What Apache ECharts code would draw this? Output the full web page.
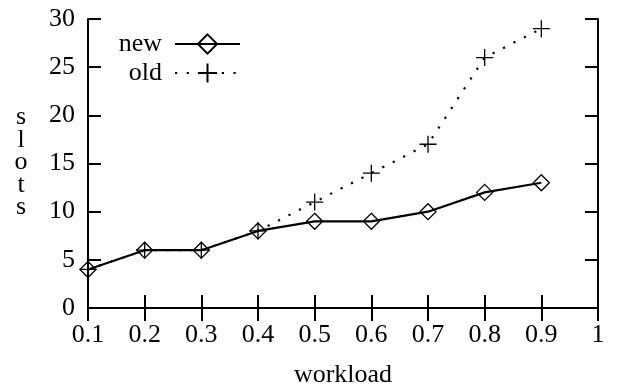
<!DOCTYPE html>
<html>
<head>
<meta charset="utf-8">
<script src="https://cdn.jsdelivr.net/npm/echarts@6/dist/echarts.min.js"></script>
<style>html,body{margin:0;padding:0;background:#fff}#c{width:618px;height:392px}</style>
</head>
<body>
<div id="c"></div>
<script>
const xTicks = ['0.1','0.2','0.3','0.4','0.5','0.6','0.7','0.8','0.9','1'];
const newSlots = [4, 6, 6, 8, 9, 9, 10, 12, 13];
const oldSlots = [4, 6, 6, 8, 11, 14, 17, 26, 29];
const yMin = 0, yMax = 30, yStep = 5;

const FONT = 'Liberation Serif';
const FS = 26;
const chart = echarts.init(document.getElementById('c'), null, {renderer: 'canvas'});
const plusPath = 'path://M0,8L16,8M8,0L8,16';
const axisCommon = {
  axisLine: {show: true, lineStyle: {color: '#000', width: 2}},
  axisTick: {show: true, inside: true, length: 13, lineStyle: {color: '#000', width: 2}},
  splitLine: {show: false}
};
chart.setOption({
  animation: false,
  backgroundColor: '#fff',
  grid: {left: 88, right: 20, top: 19, bottom: 84, containLabel: false, outerBoundsMode: 'none'},
  xAxis: [
    Object.assign({type: 'category', data: xTicks, boundaryGap: false, position: 'bottom',
      axisLabel: {color: '#000', fontFamily: FONT, fontSize: FS, margin: 14},
      name: 'workload', nameLocation: 'middle', nameGap: 54,
      nameTextStyle: {color: '#000', fontFamily: FONT, fontSize: FS}}, axisCommon),
    Object.assign({type: 'category', data: xTicks, boundaryGap: false, position: 'top',
      axisLabel: {show: false}}, axisCommon)
  ],
  yAxis: [
    Object.assign({type: 'value', min: yMin, max: yMax, interval: yStep, position: 'left',
      axisLabel: {color: '#000', fontFamily: FONT, fontSize: FS, margin: 13}}, axisCommon),
    Object.assign({type: 'value', min: yMin, max: yMax, interval: yStep, position: 'right',
      axisLabel: {show: false}}, axisCommon)
  ],
  legend: [
    {data: ['new'], orient: 'vertical', align: 'right', right: 377, top: 31, padding: 0,
     itemWidth: 65, itemHeight: 24,
     textStyle: {color: '#000', fontFamily: FONT, fontSize: FS, padding: [0, 8, 0, 0]}},
    {data: ['old'], orient: 'vertical', align: 'right', right: 377, top: 60, padding: 0,
     itemWidth: 65, itemHeight: 24,
     textStyle: {color: '#000', fontFamily: FONT, fontSize: FS, padding: [0, 8, 0, 0]}}
  ],
  graphic: [{
    type: 'text', x: 21, y: 106,
    style: {text: 's\nl\no\nt\ns', fill: '#000', font: FS + 'px "Liberation Serif"', lineHeight: 22.5, align: 'center', verticalAlign: 'top'}
  }],
  series: [
    {name: 'old', type: 'line', data: oldSlots, symbol: plusPath, symbolSize: 17,
     showAllSymbol: true,
     lineStyle: {color: '#000', width: 2.2, type: [2.2, 9.5]},
     itemStyle: {color: 'none', borderColor: '#000', borderWidth: 1.3}},
    {name: 'new', type: 'line', data: newSlots, symbol: 'diamond', symbolSize: [16, 16],
     showAllSymbol: true,
     lineStyle: {color: '#000', width: 2.2},
     itemStyle: {color: 'none', borderColor: '#000', borderWidth: 1.3}}
  ]
});
</script>
</body>
</html>
